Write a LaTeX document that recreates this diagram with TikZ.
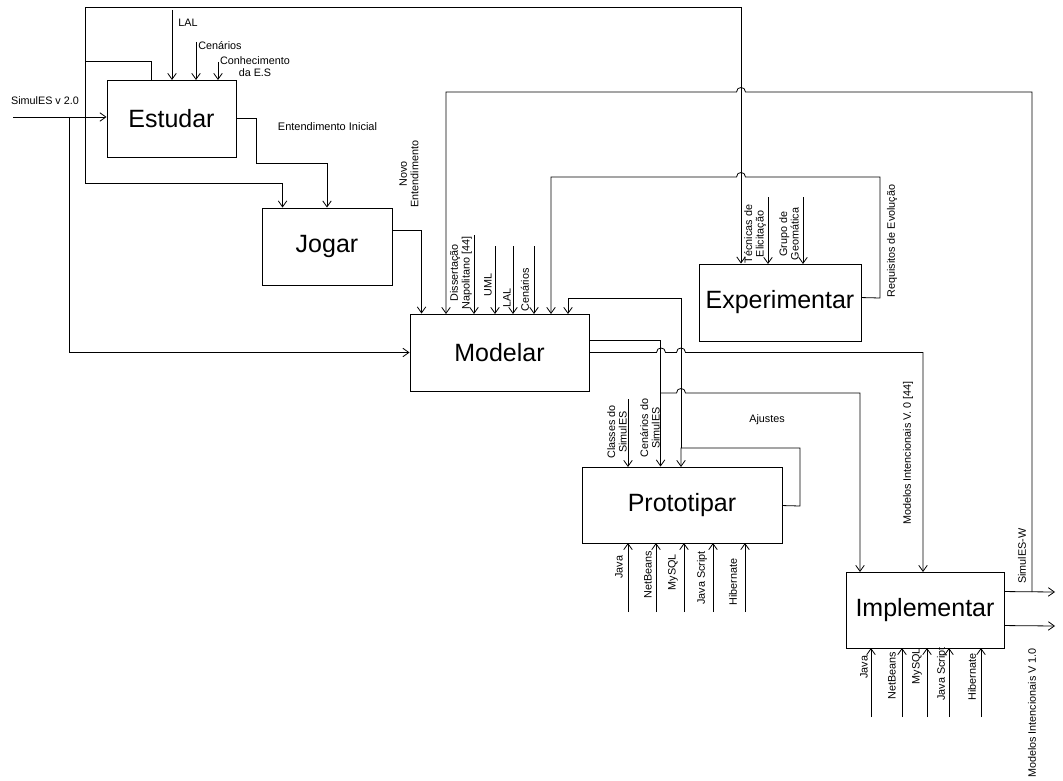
\documentclass[tikz,border=0pt]{standalone}
\usepackage{fontspec}
\setmainfont{Liberation Sans}
\usetikzlibrary{arrows.meta,calc}

% horizontal line with a small upward hop over a vertical wire at x = #1 (drawn right-to-left or left-to-right)
\newcommand{\hopR}[2]{-- (#1-4.5,#2) .. controls (#1-4.5,#2-6) and (#1+4.5,#2-6) .. (#1+4.5,#2)}
\newcommand{\hopL}[2]{-- (#1+4.5,#2) .. controls (#1+4.5,#2-6) and (#1-4.5,#2-6) .. (#1-4.5,#2)}

\begin{document}
\begin{tikzpicture}[x=1pt,y=-1pt,
  box/.style={draw, line width=0.9pt, inner sep=0pt, font=\fontsize{25}{30}\selectfont},
  wire/.style={line width=0.8pt},
  arr/.style={wire, -{Straight Barb[length=6pt,width=8.5pt,line width=0.8pt]}},
  lbl/.style={font=\fontsize{10.8}{11.6}\selectfont, inner sep=0pt, align=center},
  vlbl/.style={lbl, rotate=90},
]
\useasboundingbox (0,0) rectangle (1063,781);

% activity boxes
\node[box, minimum width=129pt, minimum height=77pt] (est) at (171.5,118.5) {Estudar};
\node[box, minimum width=130pt, minimum height=77pt] (jog) at (327,246.5) {Jogar};
\node[box, minimum width=179pt, minimum height=77pt] (mod) at (499.5,352.5) {Modelar};
\node[box, minimum width=162pt, minimum height=77pt] (exp) at (780,302.5) {Experimentar};
\node[box, minimum width=200pt, minimum height=76pt] (pro) at (682,505) {Prototipar};
\node[box, minimum width=158pt, minimum height=76pt] (imp) at (925,610) {Implementar};

% junctions and free ends
\coordinate (inS) at (13,117);
\coordinate (brS) at (69,117);
\coordinate (lt) at (85,7);
\coordinate (lb) at (85,183);
\coordinate (lm) at (85,61);
\coordinate (tr) at (741,7);
\coordinate (e1) at (256,163);
\coordinate (sw) at (1032,592);
\coordinate (aj) at (681,448);
\coordinate (cs) at (661,393);

% Estudar inputs
\draw[arr] (inS) -- (inS -| est.west);
\node[lbl] at (45,101) {SimulES v 2.0};
\draw[arr] (brS) |- (mod.west);

% outer loop on the left
\draw[arr] (lb) -- (lt) -- (tr) -- (tr |- exp.north);
\draw[arr] (lb) -| ($(jog.north west)+(21,0)$);
\draw[wire] (lm) -| ($(est.north west)+(45,0)$);

% Estudar controls
\draw[arr] (172,10) -- (172,80);
\draw[arr] (196,42) -- (196,80);
\draw[arr] (218,62) -- (218,80);
\node[lbl] at (188,23) {LAL};
\node[lbl] at (220,46) {Cenários};
\node[lbl] at (255,66.5) {Conhecimento\\da E.S};

% Estudar -> Jogar
\draw[arr] (est.east) -| (e1) -| (jog.north);
\node[lbl, font=\fontsize{11}{12}\selectfont] at (327.5,127) {Entendimento Inicial};

% Jogar -> Modelar
\draw[arr] ($(jog.north east)+(0,23)$) -| ($(mod.north west)+(12,0)$);
\node[vlbl] at (409,174) {Novo\\Entendimento};

% SimulES-W feedback into Modelar
\draw[arr] ($(imp.north east)+(0,20)$) -- (1055,592);
\draw[arr] (sw) -- (1032,92) \hopL{741}{92} -- (446,92) -- (446,314);
\node[vlbl] at (1022,556) {SimulES-W};

% Modelos Intencionais V 1.0
\draw[arr] ($(imp.north east)+(0,54)$) -- (1055,626);
\node[vlbl] at (1032,713) {Modelos Intencionais V 1.0};

% Requisitos de Evolucao loop
\draw[arr] ($(exp.north east)+(0,34)$) -- (880,298) -- (880,177) \hopL{741}{177} -- (551,177) -- (551,314);
\node[vlbl] at (892,241) {Requisitos de Evolução};

% Experimentar controls
\draw[arr] (768,197) -- (768,264);
\draw[arr] (803,197) -- (803,264);
\node[vlbl] at (755,234) {Técnicas de\\Elicitação};
\node[vlbl] at (789,234) {Grupo de\\Geomática};

% Modelar controls
\draw[arr] (474,235) -- (474,314);
\draw[arr] (495,246) -- (495,314);
\draw[arr] (513,246) -- (513,314);
\draw[arr] (534,246) -- (534,314);
\node[vlbl] at (461,273) {Dissertação\\Napolitano [44]};
\node[vlbl] at (488,285) {UML};
\node[vlbl] at (507,298) {LAL};
\node[vlbl] at (525,290) {Cenários};

% Modelar outputs
\draw[arr] ($(mod.north east)+(0,27)$) -| ($(pro.north west)+(79,0)$);
\draw[arr] (cs) \hopR{681}{393} -- (860,393) -- (860,572);
\draw[arr] (mod.east) \hopR{661}{352.5} \hopR{681}{352.5} -- (923,352.5) -- (923,572);
\node[vlbl] at (650,428) {Cenários do\\SimulES};
\node[vlbl] at (908,453) {Modelos Intencionais V. 0 [44]};

% Prototipar control
\draw[arr] (628,399) -- (628,467);
\node[vlbl] at (617,432) {Classes do\\SimulES};

% Ajustes loop
\draw[arr] ($(pro.north east)+(0,39)$) -- (800,506) |- (aj) -- (681,467);
\draw[arr] (aj) |- (568,298) -- (568,314);
\node[lbl] at (767,420) {Ajustes};

% Prototipar mechanisms
\foreach \x in {628,656,684,713,745} \draw[arr] (\x,612) -- (\x,543);
\node[vlbl] at (619,567) {Java};
\node[vlbl] at (648,575) {NetBeans};
\node[vlbl] at (673,572) {MySQL};
\node[vlbl] at (702,578) {Java Script};
\node[vlbl] at (733,582) {Hibernate};

% Implementar mechanisms
\foreach \x in {871,902,927,949,981} \draw[arr] (\x,717) -- (\x,648);
\node[vlbl] at (864,667) {Java};
\node[vlbl] at (892,676) {NetBeans};
\node[vlbl] at (917,666) {MySQL};
\node[vlbl] at (942,674) {Java Script};
\node[vlbl] at (972,677) {Hibernate};
\end{tikzpicture}
\end{document}
